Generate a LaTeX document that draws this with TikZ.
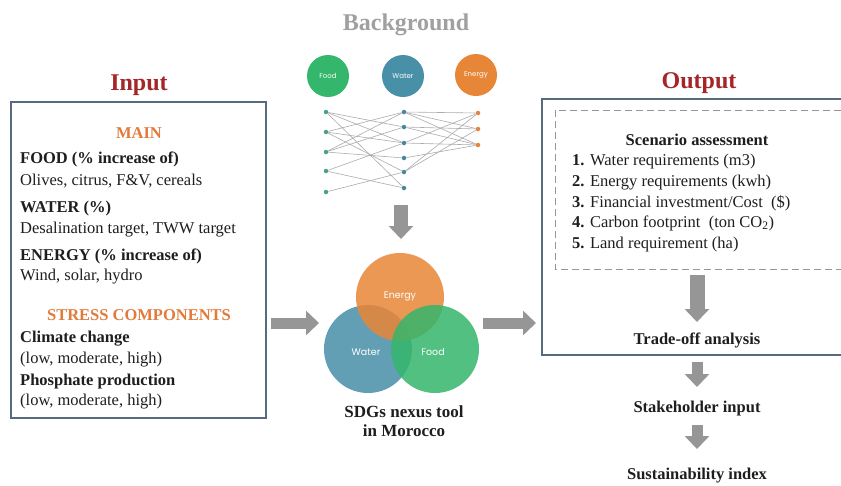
\documentclass[tikz,border=0pt]{standalone}
\usepackage{fontspec}
\setmainfont{Liberation Serif}
\newfontfamily\gothic{Poppins}
\usetikzlibrary{arrows.meta}
\definecolor{titlered}{RGB}{165,38,40}
\definecolor{headorange}{RGB}{226,122,58}
\definecolor{boxborder}{RGB}{88,106,130}
\definecolor{arrowgray}{RGB}{150,150,150}
\definecolor{bggray}{RGB}{160,160,160}
\definecolor{netgray}{RGB}{172,172,172}
\definecolor{cfood}{RGB}{52,182,108}
\definecolor{cwater}{RGB}{72,143,168}
\definecolor{cenergy}{RGB}{232,134,55}
\definecolor{dotleft}{RGB}{70,160,140}
\definecolor{dotmid}{RGB}{70,135,160}
\definecolor{dotright}{RGB}{230,130,60}
\definecolor{textdark}{RGB}{30,30,30}
\begin{document}
\begin{tikzpicture}[x=1pt,y=-1pt,
  body/.style={inner sep=0pt, anchor=base west, text=textdark, font=\fontsize{16.5}{19}\selectfont},
  bodyb/.style={inner sep=0pt, anchor=base west, text=textdark, font=\fontsize{16.5}{19}\selectfont\bfseries},
  centerb/.style={inner sep=0pt, anchor=base, text=textdark, font=\fontsize{16.5}{19}\selectfont\bfseries},
  head/.style={inner sep=0pt, anchor=base, text=headorange, font=\fontsize{16.5}{19}\selectfont\bfseries},
  titletext/.style={inner sep=0pt, anchor=base, text=titlered, font=\fontsize{24}{28}\selectfont\bfseries},
  blockarrow/.style={draw=arrowgray, line width=11pt, -{Triangle[length=13pt,width=24pt]}},
  netline/.style={draw=netgray, line width=0.6pt},
  netdot/.style={circle, inner sep=0pt, minimum size=4.5pt},
  topcircle/.style={circle, inner sep=0pt, minimum size=42pt, text=white, font=\gothic\fontsize{7}{8}\selectfont},
  venncircle/.style={circle, inner sep=0pt, minimum size=88pt, fill opacity=0.85, text opacity=1, text=white, font=\gothic\fontsize{9.5}{11}\selectfont},
  mainbox/.style={draw=boxborder, line width=1.3pt, inner sep=0pt}
]
\clip (0,0) rectangle (841,485);
\fill[white] (0,0) rectangle (841,485);

% ---------- Background ----------
\node[inner sep=0pt, anchor=base, text=bggray, font=\fontsize{24}{28}\selectfont\bfseries] (bgtitle) at (406,30) {Background};
\node[topcircle, fill=cfood] (food) at (328,76) {Food};
\node[topcircle, fill=cwater] (water) at (403,76) {Water};
\node[topcircle, fill=cenergy] (energy) at (476,75) {Energy};

\node[netdot, fill=dotleft] (l1) at (326,112) {};
\node[netdot, fill=dotleft] (l2) at (326,132) {};
\node[netdot, fill=dotleft] (l3) at (326,152) {};
\node[netdot, fill=dotleft] (l4) at (326,171) {};
\node[netdot, fill=dotleft] (l5) at (326,192) {};
\node[netdot, fill=dotmid] (m1) at (404,112) {};
\node[netdot, fill=dotmid] (m2) at (404,127) {};
\node[netdot, fill=dotmid] (m3) at (404,143) {};
\node[netdot, fill=dotmid] (m4) at (404,158) {};
\node[netdot, fill=dotmid] (m5) at (404,172) {};
\node[netdot, fill=dotmid] (m6) at (404,188) {};
\node[netdot, fill=dotright] (r1) at (478,113) {};
\node[netdot, fill=dotright] (r2) at (478,129) {};
\node[netdot, fill=dotright] (r3) at (478,145) {};

\begin{scope}[netline]
\draw (l1) -- (m2); \draw (l1) -- (m3); \draw (l1) -- (m6);
\draw (l2) -- (m3); \draw (l2) -- (m5); \draw (l2) -- (m1);
\draw (l3) -- (m1); \draw (l3) -- (m2); \draw (l3) -- (m4);
\draw (l4) -- (m3); \draw (l4) -- (m6);
\draw (l5) -- (m5);
\draw (m1) -- (r1); \draw (m1) -- (r2); \draw (m1) -- (r3);
\draw (m2) -- (r2); \draw (m2) -- (r3);
\draw (m3) -- (r1); \draw (m3) -- (r3);
\draw (m4) -- (r3);
\draw (m5) -- (r1); \draw (m5) -- (r2);
\end{scope}

\coordinate (bgs) at (401,205);
\coordinate (bge) at (401,239);
\draw[blockarrow, line width=14pt] (bgs) -- (bge);

% ---------- Venn ----------
\node[venncircle, fill=cwater] (vwater) at (368,349) {};
\node[venncircle, fill=cenergy] (venergy) at (400,297) {};
\node[venncircle, fill=cfood] (vfood) at (435,349) {};
\node[text=white, font=\gothic\fontsize{9.5}{11}\selectfont] (lenergy) at (400,296) {Energy};
\node[text=white, font=\gothic\fontsize{9.5}{11}\selectfont] (lwater) at (366,352) {Water};
\node[text=white, font=\gothic\fontsize{9.5}{11}\selectfont] (lfood) at (433,352) {Food};
\node[inner sep=0pt, anchor=base, text=textdark, font=\fontsize{17}{20}\selectfont\bfseries] (sdg1) at (404,417) {SDGs nexus tool};
\node[inner sep=0pt, anchor=base, text=textdark, font=\fontsize{17}{20}\selectfont\bfseries] (sdg2) at (404,436) {in Morocco};

% ---------- Input ----------
\node[titletext] (intitle) at (139,90) {Input};
\node[mainbox, minimum width=255pt, minimum height=316pt] (inbox) at (138.5,260) {};
\node[head] (mainh) at (139,138) {MAIN};
\node[bodyb] (foodh) at (20,163) {FOOD (\% increase of)};
\node[body] (foodt) at (20,185) {Olives, citrus, F\&V, cereals};
\node[bodyb] (waterh) at (20,212) {WATER (\%)};
\node[body] (watert) at (20,233) {Desalination target, TWW target};
\node[bodyb] (energyh) at (20,260) {ENERGY (\% increase of)};
\node[body] (energyt) at (20,280) {Wind, solar, hydro};
\node[head] (stressh) at (139,320) {STRESS COMPONENTS};
\node[bodyb] (climh) at (20,342) {Climate change};
\node[body] (climt) at (20,363) {(low, moderate, high)};
\node[bodyb] (phosh) at (20,385) {Phosphate production};
\node[body] (phost) at (20,405) {(low, moderate, high)};

\coordinate (a1s) at (271,323);
\coordinate (a1e) at (319,323);
\draw[blockarrow] (a1s) -- (a1e);

% ---------- Output ----------
\node[titletext] (outtitle) at (699,88) {Output};
\draw[draw=boxborder, line width=1.3pt] (542,99) rectangle (880,355);
\draw[draw=arrowgray, line width=0.8pt, dash pattern=on 7pt off 4pt] (555,110) rectangle (880,269);
\node[centerb] (scen) at (697,145) {Scenario assessment};
\node[body] (it1) at (572,165) {\textbf{1.} Water requirements (m3)};
\node[body] (it2) at (572,186) {\textbf{2.} Energy requirements (kwh)};
\node[body] (it3) at (572,207) {\textbf{3.} Financial investment/Cost\ \ (\$)};
\node[body] (it4) at (572,227) {\textbf{4.} Carbon footprint\ \ (ton CO\textsubscript{2})};
\node[body] (it5) at (572,248) {\textbf{5.} Land requirement (ha)};
\node[centerb] (trade) at (697,344) {Trade-off analysis};
\node[centerb] (stake) at (697,412) {Stakeholder input};
\node[centerb] (sust) at (697,479) {Sustainability index};

\coordinate (a2s) at (483,323);
\coordinate (a2e) at (536,323);
\draw[blockarrow] (a2s) -- (a2e);
\coordinate (a3s) at (697,275);
\coordinate (a3e) at (697,322);
\draw[blockarrow, line width=15pt] (a3s) -- (a3e);
\coordinate (a4s) at (697,362);
\coordinate (a4e) at (697,387);
\draw[blockarrow] (a4s) -- (a4e);
\coordinate (a5s) at (697,425);
\coordinate (a5e) at (697,449);
\draw[blockarrow] (a5s) -- (a5e);
\end{tikzpicture}
\end{document}
